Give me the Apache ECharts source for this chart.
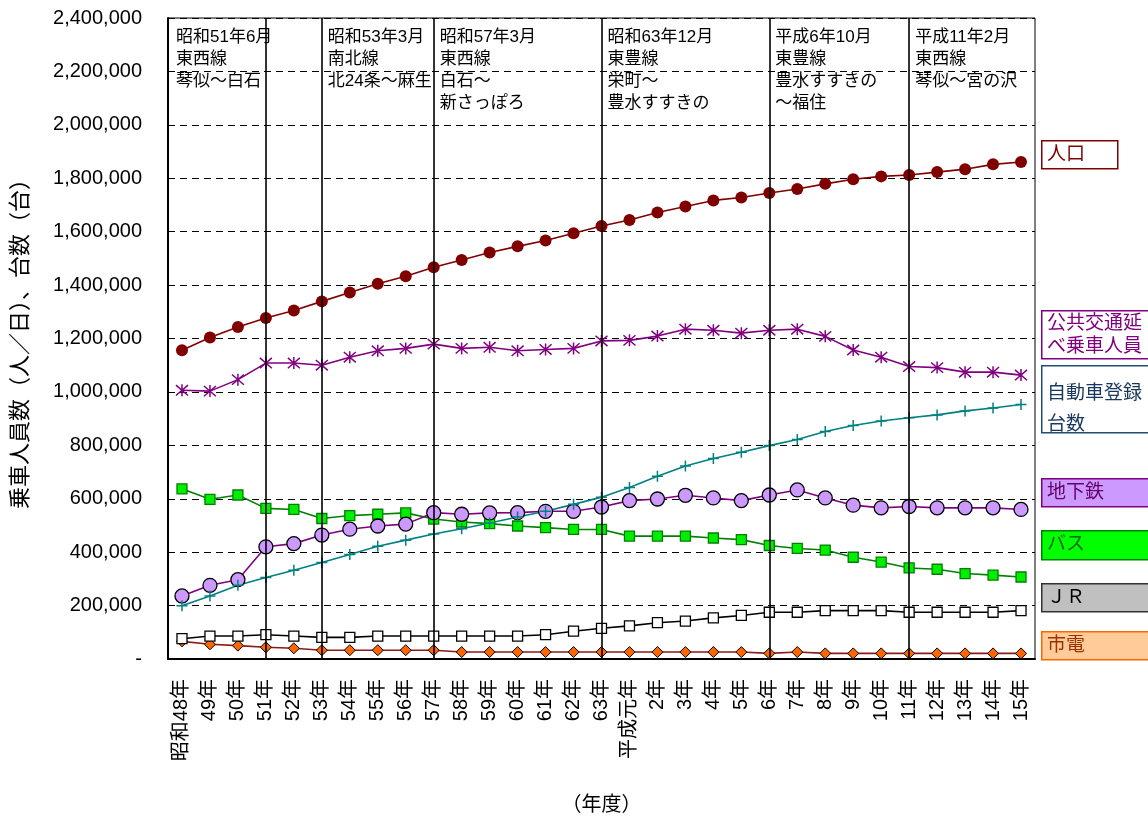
<!DOCTYPE html>
<html>
<head>
<meta charset="utf-8">
<script src="https://cdn.jsdelivr.net/npm/echarts@6/dist/echarts.min.js"></script>
<style>
  html, body { margin: 0; padding: 0; background: #fff; }
  #chart { width: 1148px; height: 819px; }
</style>
</head>
<body>
<div id="chart"></div>
<script>
// 年度
const years = ['昭和48年','49年','50年','51年','52年','53年','54年','55年','56年','57年','58年','59年','60年','61年','62年','63年',
  '平成元年','2年','3年','4年','5年','6年','7年','8年','9年','10年','11年','12年','13年','14年','15年'];

// 人口
const population = [1156000,1204000,1243000,1277000,1305000,1339000,1372000,1405000,1433000,1467000,1494000,1522000,1545000,1567000,1594000,1621000,
  1644000,1672000,1694000,1717000,1728000,1745000,1760000,1779000,1796000,1807000,1812000,1823000,1834000,1852000,1861000];
// 公共交通延べ乗車人員
const publicTransit = [1006000,1003000,1046000,1108000,1108000,1100000,1130000,1154000,1163000,1179000,1163000,1167000,1154000,1159000,1163000,1191000,
  1193000,1209000,1235000,1231000,1220000,1231000,1235000,1208000,1157000,1130000,1095000,1091000,1074000,1074000,1063000];
// 自動車登録台数
const cars = [199000,236000,276000,305000,332000,361000,391000,422000,445000,468000,488000,509000,532000,553000,579000,606000,
  642000,684000,723000,751000,774000,799000,822000,852000,874000,891000,903000,914000,929000,940000,953000];
// 地下鉄
const subway = [236000,276000,297000,420000,432000,464000,486000,498000,505000,548000,542000,547000,548000,553000,553000,569000,
  593000,599000,613000,603000,593000,614000,633000,603000,576000,566000,571000,566000,566000,566000,560000];
// バス
const bus = [637000,598000,614000,564000,560000,526000,537000,542000,547000,524000,513000,507000,498000,492000,485000,485000,
  460000,460000,460000,453000,447000,425000,414000,408000,381000,363000,341000,336000,320000,314000,307000];
// ＪＲ
const jr = [76000,86000,86000,91000,86000,81000,81000,86000,86000,86000,86000,86000,86000,91000,104000,115000,
  124000,136000,142000,154000,163000,175000,175000,181000,181000,181000,175000,175000,175000,175000,181000];
// 市電
const tram = [66000,55000,50000,44000,40000,33000,33000,33000,33000,33000,26000,26000,26000,26000,26000,26000,
  26000,26000,26000,26000,26000,21000,26000,21000,21000,21000,21000,21000,21000,21000,21000];

// 地下鉄開業区間
const openingYears = ['51年','53年','57年','63年','6年','11年'];
const openingNotes = [
  '昭和51年6月\n東西線\n琴似～白石',
  '昭和53年3月\n南北線\n北24条～麻生',
  '昭和57年3月\n東西線\n白石～\n新さっぽろ',
  '昭和63年12月\n東豊線\n栄町～\n豊水すすきの',
  '平成6年10月\n東豊線\n豊水すすきの\n～福住',
  '平成11年2月\n東西線\n琴似～宮の沢'
];

// 系列名
const seriesNames = ['人口','公共交通延\nべ乗車人員','自動車登録\n台数','地下鉄','バス','ＪＲ','市電'];

const FONT = "'Liberation Sans', 'Noto Sans CJK JP', sans-serif";
const chart = echarts.init(document.getElementById('chart'), null, { renderer: 'canvas' });

const asterisk = 'path://M5,0L5,10M0.7,0.7L9.3,9.3M0.7,9.3L9.3,0.7';
const plus = 'path://M5,0L5,10M0,5L10,5';

function lineSeries(name, data, lineColor, symbol, size, fill, border, bw) {
  return {
    name, type: 'line', data,
    symbol, symbolSize: size,
    lineStyle: { color: lineColor, width: 1.6 },
    itemStyle: { color: fill, borderColor: border, borderWidth: bw },
    emphasis: { disabled: true },
    animation: false
  };
}

const option = {
  animation: false,
  textStyle: { fontFamily: FONT },
  grid: {
    left: 168, right: 113, top: 18, bottom: 160,
    outerBoundsMode: 'none', containLabel: false,
    show: true, borderColor: '#000', borderWidth: 1, backgroundColor: 'transparent'
  },
  xAxis: {
    type: 'category', data: years, boundaryGap: true,
    name: '（年度）', nameLocation: 'middle', nameGap: 136,
    nameTextStyle: { fontSize: 20, color: '#000', fontFamily: FONT },
    axisLine: { lineStyle: { color: '#000', width: 2 } },
    axisTick: { inside: true, length: 6, lineStyle: { color: '#000' } },
    axisLabel: { rotate: 90, fontSize: 20, color: '#000', margin: 20, interval: 0, fontFamily: FONT },
    splitLine: { show: false }
  },
  yAxis: {
    type: 'value', min: 0, max: 2400000, interval: 200000,
    name: '乗車人員数（人／日）、台数（台）', nameLocation: 'middle', nameRotate: 90, nameGap: 136,
    nameTextStyle: { fontSize: 22, color: '#000', fontFamily: FONT },
    axisLine: { show: true, lineStyle: { color: '#000', width: 2 } },
    axisTick: { show: false },
    axisLabel: {
      fontSize: 20, color: '#000', margin: 26, fontFamily: FONT,
      formatter: v => v === 0 ? '-' : v.toLocaleString('en-US')
    },
    splitLine: { lineStyle: { color: '#000', type: [7, 5], width: 1 } }
  },
  series: [
    Object.assign(lineSeries('市電', tram, '#8B1A1A', 'diamond', 11, '#FF6600', '#000', 1), {
      markLine: {
        silent: true, symbol: 'none', animation: false,
        label: { show: false },
        lineStyle: { color: '#000', type: 'solid', width: 1.6 },
        data: openingYears.map(y => ({ xAxis: y }))
      }
    }),
    lineSeries('ＪＲ', jr, '#000', 'rect', 10, '#fff', '#000', 1.3),
    lineSeries('バス', bus, '#008000', 'rect', 10, '#00EE00', '#008000', 1.3),
    lineSeries('地下鉄', subway, '#800080', 'circle', 14, '#CC99FF', '#000', 1.3),
    lineSeries('自動車登録台数', cars, '#008080', plus, 11, 'none', '#008080', 1.5),
    lineSeries('公共交通延べ乗車人員', publicTransit, '#800080', asterisk, 12, 'none', '#800080', 1.5),
    lineSeries('人口', population, '#800000', 'circle', 12, '#800000', '#800000', 0)
  ]
};
chart.setOption(option);

// 開業区間の注記と系列名の枠
const graphics = [];
const gridLeft = 168;
openingYears.forEach((y, i) => {
  const lineX = chart.convertToPixel({ xAxisIndex: 0 }, y);
  const x = i === 0 ? gridLeft + 8 : lineX + 6;
  graphics.push({
    type: 'text', left: x, top: 26, silent: true,
    style: { text: openingNotes[i], font: `17px ${FONT}`, fill: '#000', lineHeight: 22 }
  });
});

const boxes = [
  { top: 140, h: 28, w: 76, fill: '#fff', stroke: '#800000', color: '#800000' },
  { top: 310, h: 48, w: 107, fill: '#fff', stroke: '#800080', color: '#800080' },
  { top: 365, h: 67, w: 107, fill: '#fff', stroke: '#1F4E79', color: '#17375E' },
  { top: 478, h: 28, w: 107, fill: '#CC99FF', stroke: '#800080', color: '#660066' },
  { top: 530, h: 29, w: 107, fill: '#00FF00', stroke: '#008000', color: '#006600' },
  { top: 583, h: 28, w: 107, fill: '#C0C0C0', stroke: '#333', color: '#000' },
  { top: 631, h: 28, w: 107, fill: '#FFCC99', stroke: '#FF6600', color: '#993300' }
];
boxes.forEach((b, i) => {
  graphics.push({
    type: 'rect', left: 1041, top: b.top, silent: true,
    shape: { width: b.w, height: b.h },
    style: { fill: b.fill, stroke: b.stroke, lineWidth: 1.5 }
  });
  const multi = seriesNames[i].includes('\n');
  graphics.push({
    type: 'text', left: 1047, top: b.top + (multi ? (i === 2 ? 13 : 2) : 3), silent: true,
    style: { text: seriesNames[i], font: `19px ${FONT}`, fill: b.color, lineHeight: i === 2 ? 31 : 23 }
  });
});
chart.setOption({ graphic: graphics });
</script>
</body>
</html>
